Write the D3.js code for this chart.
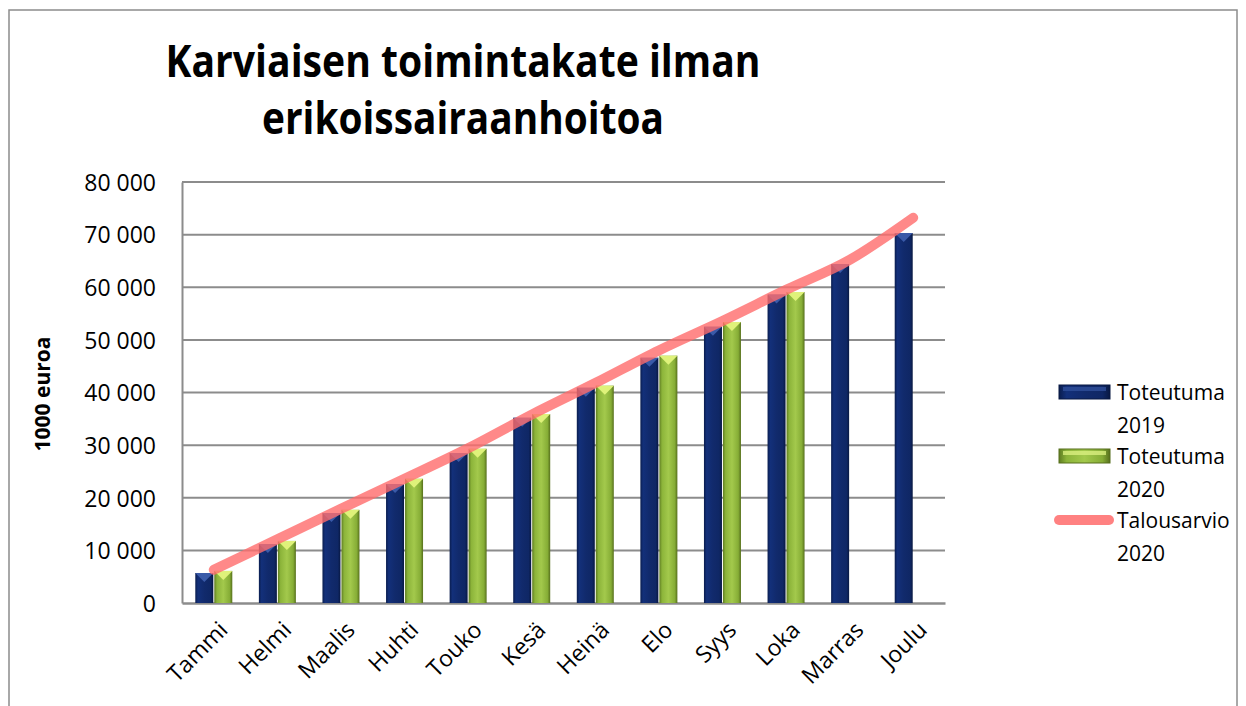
<!DOCTYPE html>
<html>
<head>
<meta charset="utf-8">
<script src="https://cdn.jsdelivr.net/npm/d3@7"></script>
<style>
  body{margin:0;background:#fff;}
  text{font-family:"Open Sans",sans-serif;fill:#000;}
</style>
</head>
<body>
<div id="chart"></div>
<script>
// kuukaudet ja sarjat (1000 euroa)
var months = ["Tammi","Helmi","Maalis","Huhti","Touko","Kesä","Heinä","Elo","Syys","Loka","Marras","Joulu"];
var toteutuma2019 = [5700,11200,17100,22600,28500,35200,40900,46600,52500,58600,64400,70300];
var toteutuma2020 = [6100,11800,17700,23600,29300,35900,41300,47000,53400,59100];
var talousarvio2020 = [6300,12100,17900,23600,29400,35800,41800,48000,53600,59500,65200,73200];
var yTicks = [0,10000,20000,30000,40000,50000,60000,70000,80000];
var titleLines = ["Karviaisen toimintakate ilman","erikoissairaanhoitoa"];
var legendItems = [["Toteutuma","2019"],["Toteutuma","2020"],["Talousarvio","2020"]];

var width=1246, height=706;
var plot = {left:182, right:945, top:182, bottom:603};

var svg = d3.select("#chart").append("svg")
    .attr("width",width)
    .attr("height",height);

var defs = svg.append("defs");
function hgrad(id,stops){
  var g = defs.append("linearGradient").attr("id",id)
      .attr("x1","0").attr("x2","1").attr("y1","0").attr("y2","0");
  stops.forEach(function(s){
    g.append("stop").attr("offset",s[0]).attr("stop-color",s[1]);
  });
}
hgrad("navy",[[0,"#0a1d4e"],[0.15,"#13307a"],[0.5,"#112a6c"],[0.85,"#0f2765"],[1,"#081842"]]);
hgrad("green",[[0,"#5f7d22"],[0.15,"#8cb43a"],[0.5,"#a3c94c"],[0.85,"#86ad36"],[1,"#566f1c"]]);

// kehys
svg.append("rect")
    .attr("x",9).attr("y",10)
    .attr("width",1228).attr("height",720)
    .attr("fill","none")
    .attr("stroke","#8c8c8c")
    .attr("stroke-width",1.5);

var xScale = d3.scaleBand()
    .domain(months)
    .range([plot.left,plot.right]);

var yScale = d3.scaleLinear()
    .domain([0,80000])
    .range([plot.bottom,plot.top]);

// ruudukko
svg.append("g")
    .selectAll("line")
    .data(yTicks.slice(1))
    .enter()
    .append("line")
    .attr("x1",plot.left).attr("x2",plot.right)
    .attr("y1",function(d){return yScale(d);})
    .attr("y2",function(d){return yScale(d);})
    .attr("stroke","#8c8c8c")
    .attr("stroke-width",2);

// y-akseli
var yAxis = d3.axisLeft(yScale)
    .tickValues(yTicks)
    .tickSize(0)
    .tickPadding(26)
    .tickFormat(function(d){return d3.format(",")(d).replace(/,/g," ");});
var gy = svg.append("g")
    .attr("transform","translate("+plot.left+",0)")
    .call(yAxis);
gy.select(".domain").attr("stroke","#8c8c8c").attr("stroke-width",2);
gy.selectAll("text").attr("font-size",23).attr("dy","0.36em");

// x-akseli
var xAxis = d3.axisBottom(xScale).tickSize(0).tickFormat("");
var gx = svg.append("g")
    .attr("transform","translate(0,"+plot.bottom+")")
    .call(xAxis);
gx.select(".domain").attr("stroke","#8c8c8c").attr("stroke-width",2.5);

svg.append("g")
    .selectAll("text")
    .data(months)
    .enter()
    .append("text")
    .attr("text-anchor","end")
    .attr("font-size",23)
    .attr("transform",function(d){
      var x = xScale(d)+xScale.bandwidth()/2+4;
      return "translate("+x+",620) rotate(-45)";
    })
    .attr("dy","0.7em")
    .text(function(d){return d;});

// pylväät
var barW = 18, gap = 1;
function drawBars(values,offset,fill,bevel){
  var g = svg.append("g");
  values.forEach(function(v,i){
    var x = xScale(months[i])+xScale.bandwidth()/2+offset;
    var y = yScale(v);
    g.append("rect")
      .attr("x",x).attr("y",y)
      .attr("width",barW)
      .attr("height",plot.bottom-y)
      .attr("fill","url(#"+fill+")");
    g.append("path")
      .attr("d","M"+x+","+y+"L"+(x+barW)+","+y+"L"+(x+barW/2)+","+(y+barW/2)+"Z")
      .attr("fill",bevel);
  });
}
drawBars(toteutuma2019,-barW-gap/2,"navy","#3a5aa8");
drawBars(toteutuma2020,gap/2,"green","#dff27a");

// talousarvio
var line = d3.line()
    .x(function(d,i){return xScale(months[i])+xScale.bandwidth()/2;})
    .y(function(d){return yScale(d);})
    .curve(d3.curveMonotoneX);
svg.append("path")
    .datum(talousarvio2020)
    .attr("d",line)
    .attr("fill","none")
    .attr("stroke","#ff6b6b")
    .attr("stroke-opacity",0.8)
    .attr("stroke-width",10)
    .attr("stroke-linecap","round");

// otsikko
svg.append("g")
    .selectAll("text")
    .data(titleLines)
    .enter()
    .append("text")
    .attr("x",463)
    .attr("y",function(d,i){return 77+i*57;})
    .attr("text-anchor","middle")
    .attr("font-size",44)
    .attr("font-weight","bold")
    .attr("textLength",function(d,i){return i==0?595:402;})
    .attr("lengthAdjust","spacingAndGlyphs")
    .text(function(d){return d;});

// y-akselin nimi
svg.append("text")
    .attr("transform","translate(50,394) rotate(-90)")
    .attr("text-anchor","middle")
    .attr("font-size",21)
    .attr("font-weight","bold")
    .text("1000 euroa");

// selite
var legend = svg.append("g");
legendItems.forEach(function(item,i){
  var y0 = 392+i*64;
  if(i<2){
    var fill = i==0?"navy":"green";
    legend.append("rect")
      .attr("x",1059).attr("y",y0-7)
      .attr("width",51).attr("height",14)
      .attr("fill","url(#"+fill+")")
      .attr("stroke",i==0?"#081842":"#566f1c")
      .attr("stroke-width",1);
    legend.append("rect")
      .attr("x",1063).attr("y",y0-5)
      .attr("width",43).attr("height",4)
      .attr("fill",i==0?"#2f4f9a":"#d9ef80")
      .attr("opacity",0.8);
  }else{
    legend.append("line")
      .attr("x1",1059).attr("x2",1109)
      .attr("y1",y0).attr("y2",y0)
      .attr("stroke","#ff6b6b")
      .attr("stroke-opacity",0.85)
      .attr("stroke-width",10)
      .attr("stroke-linecap","round");
  }
  legend.append("text")
    .attr("x",1117).attr("y",y0)
    .attr("dy","0.36em")
    .attr("font-size",21)
    .text(item[0]);
  legend.append("text")
    .attr("x",1117).attr("y",y0+33)
    .attr("dy","0.36em")
    .attr("font-size",21)
    .text(item[1]);
});
</script>
</body>
</html>
